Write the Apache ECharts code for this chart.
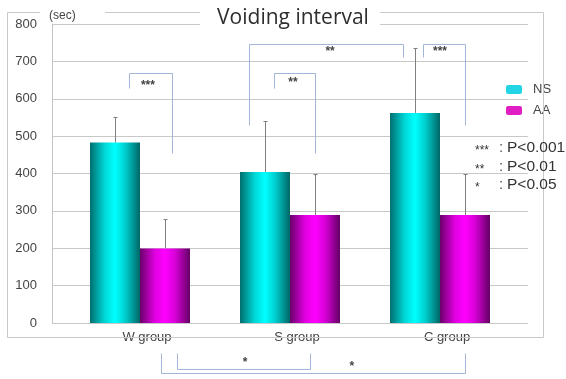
<!DOCTYPE html>
<html><head><meta charset="utf-8">
<script src="https://cdn.jsdelivr.net/npm/echarts@6/dist/echarts.min.js"></script>
<style>html,body{margin:0;padding:0;background:#fff}#c{width:566px;height:379px}</style>
</head><body><div id="c"></div>
<script>
// ---- data ----
const categories = ['W group', 'S group', 'C group'];
const seriesNames = ['NS', 'AA'];
const nsMean = [483, 404, 562];
const nsErrTop = [551, 541, 736];
const aaMean = [199, 289, 289];
const aaErrTop = [279, 398, 398];
const yMin = 0, yMax = 800, yStep = 100;
const titleText = 'Voiding interval';
const unitText = '(sec)';
const pStars = ['***', '**', '*'];
const pTexts = ['P<0.001', 'P<0.01', 'P<0.05'];
// significance brackets: x in category units, y in data units
const brackets = [
  { pts: [[-0.073, 628], [-0.073, 668], [0.213, 668], [0.213, 455]], label: '***', lx: 0.053, ly: 642 },
  { pts: [[0.893, 628], [0.893, 668], [1.167, 668], [1.167, 455]], label: '**', lx: 1.02, ly: 650 },
  { pts: [[0.727, 529], [0.727, 746], [1.753, 746], [1.753, 711]], label: '**', lx: 1.267, ly: 735 },
  { pts: [[1.887, 711], [1.887, 746], [2.167, 746], [2.167, 529]], label: '***', lx: 2.0, ly: 735 },
  { pts: [[0.247, -80], [0.247, -123], [1.133, -123], [1.133, -80]], label: '*', lx: 0.7, ly: -99 },
  { pts: [[0.14, -80], [0.14, -134], [2.167, -134], [2.167, -80]], label: '*', lx: 1.413, ly: -110 }
];

const chart = echarts.init(document.getElementById('c'));
const G = echarts.graphic;
const nsGrad = new G.LinearGradient(0, 0, 1, 0, [
  { offset: 0, color: '#006f6f' }, { offset: 0.3, color: '#00d8d8' },
  { offset: 0.5, color: '#00ffff' }, { offset: 0.7, color: '#00d0d0' }, { offset: 1, color: '#006666' }]);
const aaGrad = new G.LinearGradient(0, 0, 1, 0, [
  { offset: 0, color: '#6a006a' }, { offset: 0.3, color: '#e000e0' },
  { offset: 0.5, color: '#ff00ff' }, { offset: 0.7, color: '#d800d8' }, { offset: 1, color: '#640064' }]);

function errSeries(name, means, tops, side) {
  return {
    type: 'custom', name: name + ' err', xAxisIndex: 1, yAxisIndex: 1, z: 5, silent: true,
    data: means.map((m, i) => [i, m, tops[i]]),
    renderItem(params, api) {
      const band = api.size([1, 0])[0];
      const x = Math.round(api.coord([api.value(0), 0])[0] + side * band / 6) + 0.5;
      const top = Math.round(api.coord([api.value(0), api.value(2)])[1]) + 0.5;
      const bot = api.coord([api.value(0), api.value(1)])[1];
      return { type: 'group', children: [
        { type: 'line', shape: { x1: x, y1: bot, x2: x, y2: top }, style: { stroke: '#808080', lineWidth: 1 } },
        { type: 'line', shape: { x1: x - 2, y1: top, x2: x + 2, y2: top }, style: { stroke: '#808080', lineWidth: 1 } }
      ]};
    }
  };
}

chart.setOption({
  animation: false,
  backgroundColor: '#fff',
  title: { text: titleText, left: 288, top: 3, textAlign: 'center', z: 100,
    textStyle: { fontSize: 21, fontWeight: 'normal', color: '#2e2e2e', fontFamily: 'Open Sans' } },
  legend: {
    left: 501, top: 78, orient: 'vertical', itemWidth: 16, itemHeight: 9, itemGap: 8,
    textStyle: { fontSize: 13, color: '#444', fontFamily: 'Liberation Sans', padding: [0, 0, 0, 6] },
    data: [{ name: 'NS', itemStyle: { color: '#22d4e4' } }, { name: 'AA', itemStyle: { color: '#e01ec4' } }]
  },
  grid: [
    { left: 52, right: 38, top: 24, bottom: 56 },
    { left: 65, right: 51, top: 24, bottom: 56 }
  ],
  xAxis: [
    { gridIndex: 0, type: 'value', show: false, min: 0, max: 1 },
    { gridIndex: 1, type: 'category', data: categories,
      axisLine: { show: false }, axisTick: { show: false },
      axisLabel: { margin: 8, fontSize: 13, color: '#444', fontFamily: 'Liberation Sans', padding: [0, 0, 0, 14] } },
    { gridIndex: 1, type: 'value', show: false, min: -0.5, max: 2.5 }
  ],
  yAxis: [
    { gridIndex: 0, type: 'value', min: yMin, max: yMax, interval: yStep,
      axisLine: { show: true, lineStyle: { color: '#c4c4c4' } }, axisTick: { show: false },
      splitLine: { lineStyle: { color: '#c8c8c8' } },
      axisLabel: { margin: 15, fontSize: 13, color: '#444', fontFamily: 'Liberation Sans' } },
    { gridIndex: 1, type: 'value', min: yMin, max: yMax, interval: yStep, show: false, splitLine: { show: false } }
  ],
  series: [
    { type: 'bar', name: seriesNames[0], xAxisIndex: 1, yAxisIndex: 1, data: nsMean, barWidth: 50, barGap: '0%',
      itemStyle: { color: nsGrad } },
    { type: 'bar', name: seriesNames[1], xAxisIndex: 1, yAxisIndex: 1, data: aaMean, barWidth: 50, barGap: '0%',
      itemStyle: { color: aaGrad } },
    errSeries('NS', nsMean, nsErrTop, -1),
    errSeries('AA', aaMean, aaErrTop, 1)
  ]
});

function px(p) { return chart.convertToPixel({ xAxisIndex: 2, yAxisIndex: 1 }, p); }
const gfx = [];
const frameColor = '#c8c8c8';
// outer frame (decoration)
gfx.push({ type: 'polyline', z: 60, shape: { points: [[40, 12.5], [7.5, 12.5], [7.5, 337.5], [543.5, 337.5], [543.5, 12.5], [380, 12.5]] },
  style: { stroke: frameColor, lineWidth: 1, fill: null } });
gfx.push({ type: 'line', z: 60, shape: { x1: 105, y1: 12.5, x2: 200, y2: 12.5 }, style: { stroke: frameColor, lineWidth: 1 } });
// white gap behind title over the top gridline
gfx.push({ type: 'rect', z: 61, shape: { x: 200, y: 19, width: 180, height: 10 }, style: { fill: '#fff' } });
gfx.push({ type: 'text', z: 62, x: 49, y: 16, style: { text: unitText, fontSize: 12, fill: '#444', fontFamily: 'Liberation Sans', textVerticalAlign: 'middle' } });
// brackets
brackets.forEach(b => {
  const pts = b.pts.map(p => { const q = px(p); return [Math.round(q[0]) + 0.5, Math.round(q[1]) + 0.5]; });
  gfx.push({ type: 'polyline', z: 70, shape: { points: pts }, style: { stroke: '#a4b6d8', lineWidth: 1, fill: null } });
  const l = px([b.lx, b.ly]);
  gfx.push({ type: 'text', z: 71, x: l[0], y: l[1] + 3, style: { text: b.label, fontSize: 12, fontWeight: 'bold', fill: '#444',
    fontFamily: 'Liberation Sans', textAlign: 'center', textVerticalAlign: 'middle' } });
});
// p-value notes
pStars.forEach((s, i) => {
  const y = 148 + i * 18.5;
  gfx.push({ type: 'text', z: 71, x: 475, y: y + 3, style: { text: s, fontSize: 12, fill: '#333', fontFamily: 'Liberation Sans', textVerticalAlign: 'middle' } });
  gfx.push({ type: 'text', z: 71, x: 499, y: y, style: { text: ':', fontSize: 15, fill: '#555', fontFamily: 'Liberation Sans', textVerticalAlign: 'middle' } });
  gfx.push({ type: 'text', z: 71, x: 507, y: y, style: { text: pTexts[i], fontSize: 15.5, fill: '#333', fontFamily: 'Liberation Sans', textVerticalAlign: 'middle' } });
});
chart.setOption({ graphic: gfx });
</script>
</body></html>
